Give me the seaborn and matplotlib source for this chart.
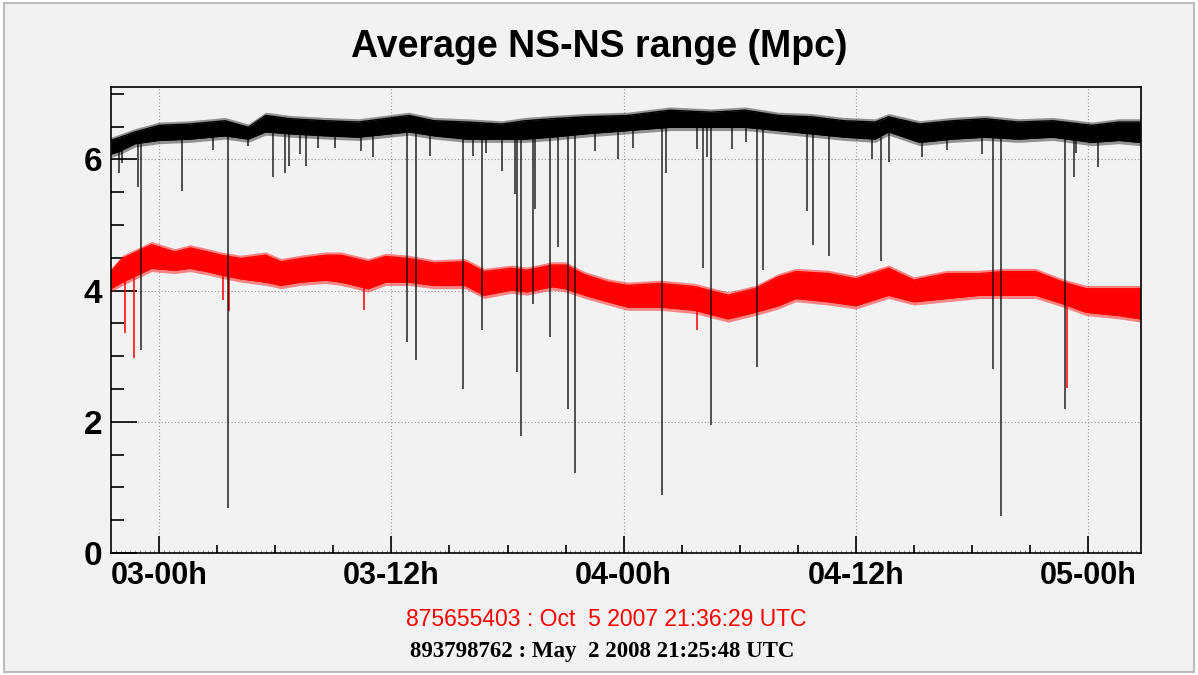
import numpy as np
import pandas as pd
import matplotlib
matplotlib.use("Agg")
import matplotlib.pyplot as plt
import seaborn as sns
from matplotlib.patches import Rectangle

# Hours counted from day 03, 00h (UTC). Band edges (Mpc).
black_hours = [-2.5, -2.0, -1.25, 0.0, 1.6, 3.4, 4.6, 5.5, 6.8, 8.6, 10.3, 12.9, 14.2, 15.9, 17.7,
               18.9, 20.3, 22.0, 24.2, 26.4, 28.5, 30.3, 32.0, 33.7, 35.4, 37.0, 37.7, 39.3, 41.0,
               42.7, 44.4, 46.2, 48.2, 49.6, 50.7]
black_upper = [6.29, 6.34, 6.42, 6.52, 6.54, 6.59, 6.49, 6.67, 6.62, 6.59, 6.57, 6.67, 6.59, 6.57, 6.54,
               6.59, 6.62, 6.65, 6.67, 6.75, 6.72, 6.75, 6.67, 6.65, 6.59, 6.57, 6.65, 6.54, 6.59,
               6.62, 6.57, 6.59, 6.52, 6.57, 6.57]
black_lower = [6.08, 6.13, 6.24, 6.29, 6.31, 6.36, 6.31, 6.42, 6.39, 6.36, 6.34, 6.42, 6.36, 6.31, 6.31,
               6.31, 6.34, 6.39, 6.44, 6.49, 6.49, 6.49, 6.44, 6.39, 6.34, 6.31, 6.42, 6.26, 6.31,
               6.34, 6.31, 6.34, 6.26, 6.29, 6.26]

red_hours = [-2.5, -1.9, -0.4, 0.8, 1.6, 2.5, 3.2, 4.2, 5.5, 6.3, 7.3, 8.6, 9.4, 10.8, 11.7,
             12.9, 14.2, 15.8, 16.8, 18.2, 19.0, 20.3, 21.0, 22.0, 23.2, 24.2, 25.9, 27.7, 29.4,
             30.8, 32.0, 32.9, 34.6, 36.0, 37.7, 39.0, 40.7, 42.4, 43.6, 45.3, 46.7, 47.9, 49.6, 50.7]
red_upper = [4.29, 4.49, 4.70, 4.59, 4.65, 4.59, 4.54, 4.49, 4.54, 4.44, 4.49, 4.54, 4.54, 4.44, 4.52,
             4.49, 4.42, 4.44, 4.29, 4.34, 4.31, 4.39, 4.39, 4.24, 4.13, 4.08, 4.11, 4.06, 3.93,
             4.03, 4.21, 4.29, 4.26, 4.18, 4.34, 4.16, 4.26, 4.26, 4.29, 4.29, 4.13, 4.03, 4.03, 4.03]
red_lower = [4.03, 4.13, 4.34, 4.31, 4.34, 4.29, 4.24, 4.18, 4.13, 4.08, 4.13, 4.16, 4.13, 4.03, 4.13,
             4.13, 4.08, 4.08, 3.93, 4.01, 3.98, 4.06, 4.03, 3.93, 3.83, 3.75, 3.75, 3.70, 3.57,
             3.67, 3.77, 3.88, 3.83, 3.77, 3.93, 3.83, 3.88, 3.93, 3.93, 3.93, 3.80, 3.67, 3.62, 3.57]

# Range drops (glitches)
black_dip_hours = [-2.1, -1.95, -1.12, -0.96, 1.15, 2.8, 3.55, 4.6, 5.9, 6.5, 6.7, 7.3, 7.6, 8.2, 9.1,
                   10.45, 11.05, 12.8, 13.25, 14.0, 15.7, 16.2, 16.7, 16.9, 17.7, 18.4, 18.5, 18.7,
                   19.3, 19.4, 20.2, 20.6, 21.1, 21.5, 22.5, 23.7, 24.5, 26.0, 26.2, 27.8, 28.1, 28.3,
                   28.5, 29.6, 30.3, 30.9, 31.2, 33.5, 33.8, 34.6, 36.85, 37.3, 37.7, 39.4, 40.7,
                   42.5, 43.1, 43.5, 46.8, 47.3, 47.4, 48.5]
black_dip_values = [5.79, 5.95, 5.58, 3.10, 5.52, 6.14, 0.69, 6.21, 5.73, 5.80, 5.90, 6.08, 5.90, 6.18, 6.18,
                    6.13, 6.03, 3.21, 2.95, 6.06, 2.50, 6.05, 3.40, 6.10, 5.82, 5.48, 2.76, 1.79,
                    3.80, 5.24, 3.30, 4.66, 2.19, 1.22, 6.13, 6.00, 6.18, 0.88, 5.80, 6.16, 4.34, 6.04,
                    1.95, 6.16, 6.26, 2.83, 4.31, 5.21, 4.70, 4.53, 6.00, 4.45, 5.96, 6.03, 6.14,
                    6.08, 2.81, 0.57, 2.19, 5.73, 6.10, 5.88]
red_dip_hours = [-1.75, -1.3, 3.3, 3.6, 10.6, 27.8, 46.9]
red_dip_values = [3.35, 2.97, 3.85, 3.69, 3.70, 3.40, 2.51]

tick_hours = [0, 12, 24, 36, 48]
tick_labels = ['03-00h', '03-12h', '04-00h', '04-12h', '05-00h']

red_stamp = '875655403 : Oct  5 2007 21:36:29 UTC'
black_stamp = '893798762 : May  2 2008 21:25:48 UTC'

black = pd.DataFrame({'hour': black_hours, 'upper': black_upper, 'lower': black_lower})
red = pd.DataFrame({'hour': red_hours, 'upper': red_upper, 'lower': red_lower})

sns.set_style("ticks")
plt.rcParams['font.family'] = ['Liberation Sans', 'DejaVu Sans']
plt.rcParams['text.color'] = 'black'
plt.rcParams['xtick.color'] = 'black'
plt.rcParams['ytick.color'] = 'black'
plt.rcParams['axes.labelcolor'] = 'black'

fig = plt.figure(figsize=(11.98, 6.75), dpi=100, facecolor='white')
fig.patches.append(Rectangle((0.003, 0.004), 0.994, 0.991, transform=fig.transFigure,
                             facecolor='#f2f2f2', edgecolor='#bdbdbd', lw=1.5, zorder=-10))
ax = fig.add_axes([0.0924, 0.1807, 0.8600, 0.6900])
ax.set_facecolor('#f2f2f2')

fringe = 0.05  # soft noisy edge of the bands

# red band
ax.fill_between(red.hour, red.lower - fringe, red.upper + fringe, color='red', alpha=0.45, lw=0, zorder=2)
ax.fill_between(red.hour, red.lower, red.upper, color='red', lw=0, zorder=2)
sns.lineplot(data=red, x='hour', y='upper', color='red', lw=1.0, ax=ax, zorder=2)
sns.lineplot(data=red, x='hour', y='lower', color='red', lw=1.0, ax=ax, zorder=2)
ax.vlines(red_dip_hours, red_dip_values, np.interp(red_dip_hours, red_hours, red_lower),
          color='red', lw=1.1, zorder=2)

# black band
ax.fill_between(black.hour, black.lower - fringe, black.upper + fringe, color='black', alpha=0.4, lw=0, zorder=3)
ax.fill_between(black.hour, black.lower, black.upper, color='black', lw=0, zorder=3)
sns.lineplot(data=black, x='hour', y='upper', color='black', lw=1.0, ax=ax, zorder=3)
sns.lineplot(data=black, x='hour', y='lower', color='black', lw=1.0, ax=ax, zorder=3)
ax.vlines(black_dip_hours, black_dip_values, np.interp(black_dip_hours, black_hours, black_lower),
          color='black', lw=1.1, alpha=0.85, zorder=3)

ax.set_xlim(-2.51, 50.74)
ax.set_ylim(0, 7.1)
ax.set_xlabel('')
ax.set_ylabel('')

ax.set_xticks(tick_hours)
ax.set_xticklabels(tick_labels, fontsize=22, fontweight='bold')
ax.set_xticks([h for h in range(3, 51, 3) if h % 12], minor=True)
ax.set_yticks([0, 2, 4, 6])
ax.set_yticklabels(['0', '2', '4', '6'], fontsize=24, fontweight='bold')
ax.set_yticks(np.arange(0, 7.05, 0.5), minor=True)

ax.tick_params(axis='x', which='major', direction='in', length=12.5, width=1.2, pad=6)
ax.tick_params(axis='x', which='minor', direction='in', length=6, width=1.2)
ax.tick_params(axis='y', which='major', direction='in', length=19, width=1.2, pad=6)
ax.tick_params(axis='y', which='minor', direction='in', length=9.5, width=1.2)

sec = ax.secondary_xaxis('bottom')
sec.set_xticks(np.arange(-2.5, 50.75, 0.25))
sec.tick_params(direction='in', length=2, width=0.6, color='#888888', labelbottom=False)
sec.spines['bottom'].set_visible(False)

ax.grid(True, which='major', ls=(0, (1, 2)), color='#9a9a9a', lw=0.8)
for s in ax.spines.values():
    s.set_color('black')
    s.set_linewidth(1.2)

fig.text(0.5, 1 - 47 / 675, 'Average NS-NS range (Mpc)', ha='center', va='center',
         fontsize=27, fontweight='bold', color='black')
fig.text(0.506, 1 - 620 / 675, red_stamp, ha='center', va='center', fontsize=16.5, color='red')
fig.text(0.5025, 1 - 652 / 675, black_stamp, ha='center', va='center', fontsize=16.5,
         fontweight='bold', color='black', family=['Liberation Serif', 'DejaVu Serif'])

fig.savefig('out.png', dpi=100, facecolor=fig.get_facecolor())
